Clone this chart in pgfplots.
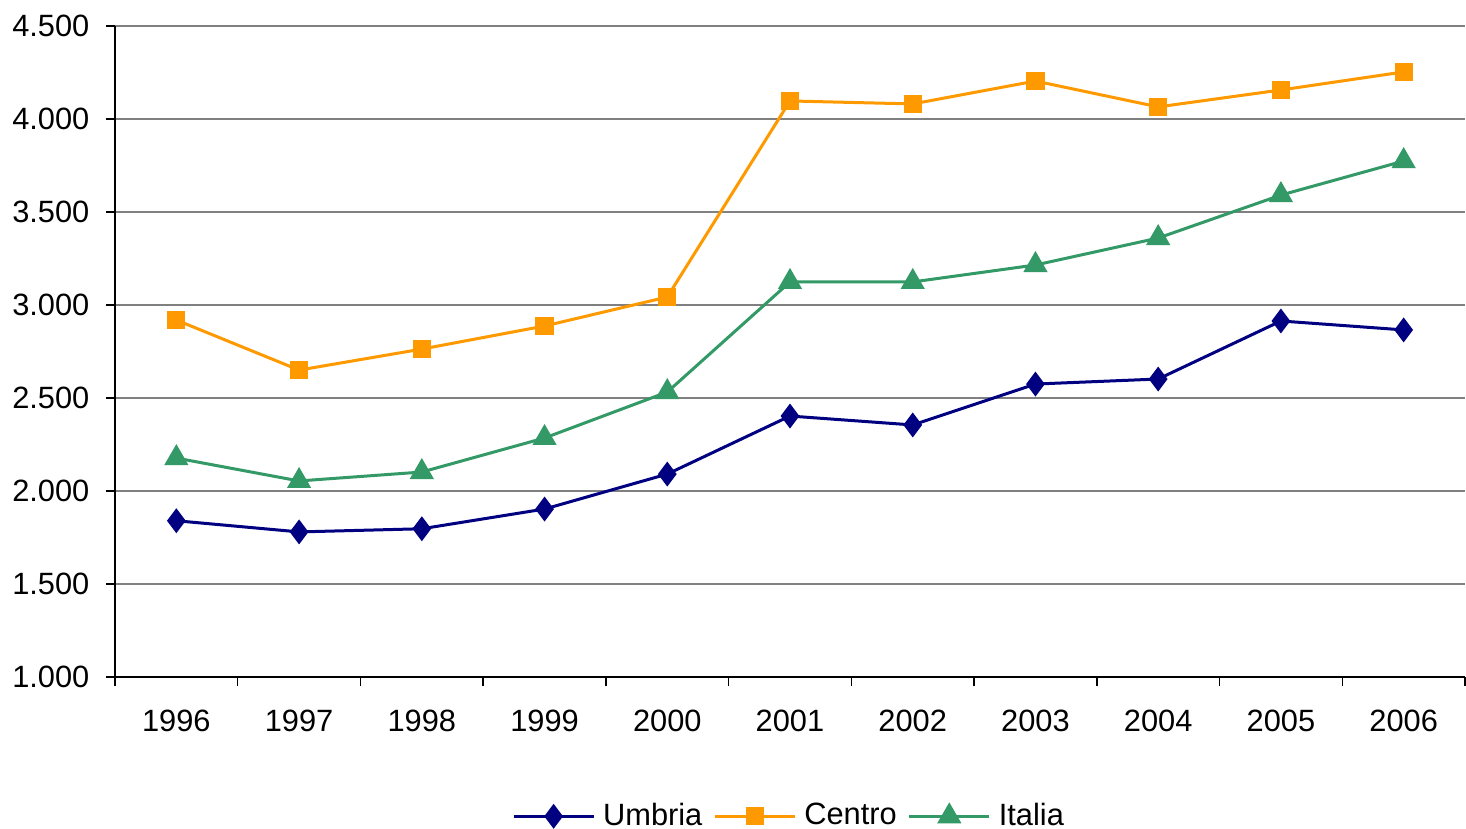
\documentclass[border=0pt]{standalone}
\usepackage{pgfplots}
\pgfplotsset{compat=1.18}
\usepackage{fontspec}
\setmainfont{Liberation Sans}
\definecolor{cUmbria}{RGB}{0,0,128}
\definecolor{cCentro}{RGB}{255,153,0}
\definecolor{cItalia}{RGB}{51,153,102}
\begin{document}
\fontsize{15.4}{18}\selectfont
\begin{tikzpicture}
\useasboundingbox (0,0) rectangle (733pt,414.5pt);
\begin{axis}[
  at={(57.5pt,76pt)}, anchor=south west,
  scale only axis, width=675pt, height=325.5pt,
  xmin=-0.5, xmax=10.5, ymin=1000, ymax=4500,
  xtick={0,...,10},
  xticklabels={1996,1997,1998,1999,2000,2001,2002,2003,2004,2005,2006},
  minor xtick={-0.5,0.5,...,10.5},
  ytick={1000,1500,...,4500},
  axis x line*=bottom, axis y line*=left,
  axis line style={-, black, line width=0.75pt},
  tick align=outside,
  major tick length=4.5pt, minor tick length=4.5pt,
  major x tick style={draw=none},
  minor x tick style={black, line width=0.75pt},
  ytick style={black, line width=0.75pt},
  ymajorgrids=true,
  major grid style={gray, line width=0.75pt},
  /pgf/number format/assume math mode=true,
  /pgf/number format/1000 sep={.},
  ticklabel style={font=\fontsize{15.4}{18}\selectfont},
  xticklabel style={yshift=-6.5pt},
  yticklabel style={xshift=-3pt},
  legend columns=3,
  legend style={at={(0.5,-0.214)}, anchor=center, draw=none, fill=none,
    font=\fontsize{15.4}{18}\selectfont,
    /tikz/every odd column/.append style={column sep=2pt},
    /tikz/every even column/.append style={column sep=3.5pt}},
  legend image code/.code={\draw[mark repeat=2,mark phase=2] plot coordinates {(0pt,0pt) (20pt,0pt) (40pt,0pt)};},
]
\addplot[cUmbria, line width=1.5pt, mark=diamond*, mark size=5pt, mark options={solid, fill=cUmbria}]
coordinates {(0,1840) (1,1780) (2,1797) (3,1903) (4,2091) (5,2403) (6,2355) (7,2575) (8,2602) (9,2914) (10,2866)};
\addlegendentry{Umbria}
\addplot[cCentro, line width=1.5pt, mark=square*, mark size=3.8pt, mark options={solid, fill=cCentro}]
coordinates {(0,2919) (1,2650) (2,2763) (3,2887) (4,3043) (5,4097) (6,4081) (7,4204) (8,4065) (9,4156) (10,4253)};
\addlegendentry{Centro}
\addplot[cItalia, line width=1.5pt, mark=triangle*, mark size=5.5pt, mark options={solid, fill=cItalia}]
coordinates {(0,2177) (1,2054) (2,2102) (3,2285) (4,2532) (5,3124) (6,3124) (7,3215) (8,3360) (9,3591) (10,3774)};
\addlegendentry{Italia}
\end{axis}
\end{tikzpicture}
\end{document}
